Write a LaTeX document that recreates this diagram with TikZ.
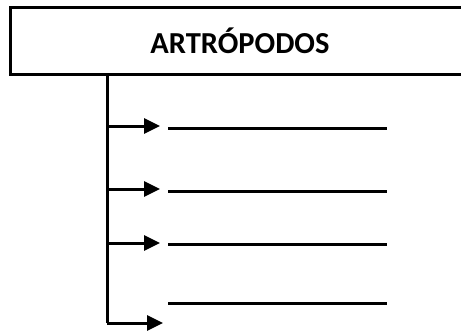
\documentclass[tikz,border=0pt]{standalone}
\usepackage{fontspec}
\setmainfont{Carlito}
\usetikzlibrary{arrows.meta}
\usetikzlibrary{positioning}

\begin{document}
\begin{tikzpicture}[x=1pt,y=-1pt,line width=3pt,
    branch/.style={-{Triangle[length=16pt,width=15pt]}},
    blank/.style={line width=3pt}]
  \useasboundingbox (0,0) rectangle (461,332);
  \clip (0,0) rectangle (461,332);

  % Title box
  \node[draw,rectangle,minimum width=460pt,minimum height=67pt,inner sep=0pt,
        font=\fontsize{30.5}{34}\selectfont\bfseries] (title) at (240,40.5) {ARTRÓPODOS};

  % Trunk
  \coordinate (top) at (107,74);
  \coordinate (corner) at (107,323);
  \draw (top) -- (corner);

  % Branches
  \foreach \y/\n in {126/a,189/b,243/c}{
    \coordinate (s\n) at (107,\y);
    \coordinate (e\n) at (160,\y);
    \draw[branch] (s\n) -- (e\n);
  }
  \coordinate (ed) at (163,323);
  \draw[branch] (corner) -- (ed);

  % Blank lines
  \foreach \y/\n in {128.5/a,191.5/b,244/c,303/d}{
    \coordinate (l\n) at (168,\y);
    \coordinate (r\n) at (387,\y);
    \draw[blank] (l\n) -- (r\n);
  }
\end{tikzpicture}
\end{document}
